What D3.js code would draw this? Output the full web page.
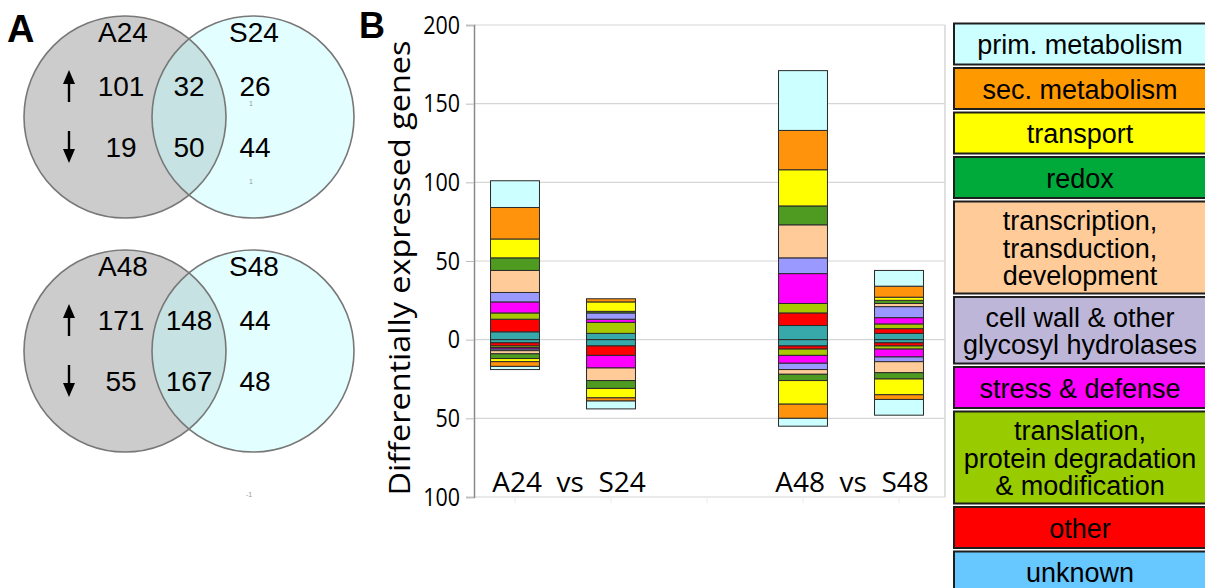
<!DOCTYPE html>
<html>
<head>
<meta charset="utf-8">
<script src="https://cdn.jsdelivr.net/npm/d3@7"></script>
<style>
body { margin: 0; background: #fff; }
svg { display: block; }
</style>
</head>
<body>
<div id="chart"></div>
<script>
// functional categories, top of each stack first
var categories = ["prim", "sec", "transport", "redox", "transcription", "cellwall", "stress", "translation", "other", "unknown"];
var legendLines = [
	["prim. metabolism"],
	["sec. metabolism"],
	["transport"],
	["redox"],
	["transcription,", "transduction,", "development"],
	["cell wall & other", "glycosyl hydrolases"],
	["stress & defense"],
	["translation,", "protein degradation", "& modification"],
	["other"],
	["unknown"]
];
var barColors = ["#ccffff", "#ff940c", "#ffff00", "#4f9a20", "#ffcc99", "#9999ff", "#ff00ff", "#a8c800", "#ff0000", "#38a9aa"];
var legendColors = ["#ccffff", "#ff9900", "#ffff00", "#00aa3a", "#ffcc99", "#bdb6d8", "#ff00ff", "#99cc00", "#ff0000", "#66c8ff"];

// number of up / down regulated genes per category (same order as categories)
var a24Up   = [17, 20, 12, 8, 14, 6, 7, 4, 8, 5];
var a24Down = [2, 3, 2, 3, 2, 1, 1, 1, 2, 2];
var s24Up   = [0, 2, 6, 1, 0, 4, 2, 7, 0, 4];
var s24Down = [5, 2, 6, 5, 8, 0, 8, 0, 6, 4];
var a48Up   = [38, 25, 23, 12, 21, 10, 19, 6, 8, 9];
var a48Down = [5, 9, 15, 4, 3, 4, 5, 4, 2, 4];
var s48Up   = [10, 7, 2, 2, 2, 7, 4, 3, 3, 4];
var s48Down = [10, 3, 10, 4, 7, 3, 5, 2, 2, 2];

var groups = ["A24", "S24", "gap", "A48", "S48"];
var yTicks = [-100, -50, 0, 50, 100, 150, 200];

// venn counts: [left only, overlap, right only]
var venn24Up   = [101, 32, 26];
var venn24Down = [19, 50, 44];
var venn48Up   = [171, 148, 44];
var venn48Down = [55, 167, 48];

var W = 1205, H = 588;
var svg = d3.select("#chart").append("svg")
	.attr("width", W)
	.attr("height", H);

var sans = "'Liberation Sans', Arial, sans-serif";
var open = "'Open Sans', 'Noto Sans', sans-serif";

/* ---------- panel A: venn diagrams ---------- */
svg.append("text")
	.attr("x", 7).attr("y", 42)
	.style("font-family", sans).style("font-weight", "bold").style("font-size", "38px")
	.text("A");

var vennSets = [
	{ names: ["A24", "S24"], up: venn24Up, down: venn24Down, cy: 117, id: "v24" },
	{ names: ["A48", "S48"], up: venn48Up, down: venn48Down, cy: 351, id: "v48" }
];
var cxL = 125, cxR = 253, rad = 101;
var colX = [121, 189, 255];

vennSets.forEach(function(v) {
	var g = svg.append("g");
	g.append("clipPath").attr("id", "clip" + v.id)
		.append("circle").attr("cx", cxL).attr("cy", v.cy).attr("r", rad);

	g.append("circle").attr("cx", cxL).attr("cy", v.cy).attr("r", rad)
		.style("fill", "#cccccc");
	g.append("circle").attr("cx", cxR).attr("cy", v.cy).attr("r", rad)
		.style("fill", "#e2fefe");
	g.append("circle").attr("cx", cxR).attr("cy", v.cy).attr("r", rad)
		.attr("clip-path", "url(#clip" + v.id + ")")
		.style("fill", "#c6e2e2");
	g.append("circle").attr("cx", cxL).attr("cy", v.cy).attr("r", rad)
		.style("fill", "none").style("stroke", "#787878").style("stroke-width", 1.6);
	g.append("circle").attr("cx", cxR).attr("cy", v.cy).attr("r", rad)
		.style("fill", "none").style("stroke", "#787878").style("stroke-width", 1.6);

	g.selectAll(".setname").data(v.names).enter().append("text")
		.attr("x", function(d, i) { return i == 0 ? 123 : 254; })
		.attr("y", v.cy - 75)
		.style("text-anchor", "middle")
		.style("font-family", sans).style("font-size", "28px")
		.text(function(d) { return d; });

	[v.up, v.down].forEach(function(row, r) {
		var base = v.cy + (r == 0 ? -21 : 40);
		g.selectAll(".num" + r).data(row).enter().append("text")
			.attr("x", function(d, i) { return colX[i]; })
			.attr("y", base)
			.style("text-anchor", "middle")
			.style("font-family", sans).style("font-size", "28px")
			.text(function(d) { return d; });

		// arrow
		var mid = base - 10, x = 69;
		var y1 = r == 0 ? mid + 16 : mid - 16;
		var y2 = r == 0 ? mid - 16 : mid + 16;
		var dir = r == 0 ? 1 : -1;
		g.append("line")
			.attr("x1", x).attr("x2", x)
			.attr("y1", y1).attr("y2", y2 + dir * 10)
			.style("stroke", "#000").style("stroke-width", 2.4);
		g.append("path")
			.attr("d", "M" + (x - 6) + "," + (y2 + dir * 14) + "L" + x + "," + y2 + "L" + (x + 6) + "," + (y2 + dir * 14) + "Z")
			.style("fill", "#000");
	});
});

// small stray marks from the original figure
[[251, 106, "1"], [251, 184, "1"], [249, 497, "-1"]].forEach(function(m) {
	svg.append("text").attr("x", m[0]).attr("y", m[1])
		.style("text-anchor", "middle").style("font-family", sans)
		.style("font-size", "7px").style("fill", "#999")
		.text(m[2]);
});

/* ---------- panel B: stacked bars ---------- */
svg.append("text")
	.attr("x", 359).attr("y", 38)
	.style("font-family", sans).style("font-weight", "bold").style("font-size", "36px")
	.text("B");

var plotL = 474, plotR = 945;
var y = d3.scaleLinear().domain([-100, 200]).range([497, 25]);
var x = d3.scaleBand().domain(groups).range([467, 947])
	.paddingInner(0.49).paddingOuter(0.245);

// grid
svg.append("g").selectAll("line").data(yTicks).enter().append("line")
	.attr("x1", plotL).attr("x2", plotR)
	.attr("y1", function(d) { return y(d); })
	.attr("y2", function(d) { return y(d); })
	.style("stroke", "#d6d6d6").style("stroke-width", 1.2);
svg.append("line")
	.attr("x1", plotR).attr("x2", plotR).attr("y1", y(200)).attr("y2", y(-100))
	.style("stroke", "#d6d6d6").style("stroke-width", 1.5);

// faint category ticks under the plot
svg.append("g").selectAll("line").data(groups).enter().append("line")
	.attr("x1", function(d) { return x(d) + x.bandwidth() / 2; })
	.attr("x2", function(d) { return x(d) + x.bandwidth() / 2; })
	.attr("y1", y(-100)).attr("y2", y(-100) + 6)
	.style("stroke", "#ececec");

// y axis
var yAxis = svg.append("g")
	.attr("transform", "translate(" + plotL + ",0)")
	.call(d3.axisLeft(y).tickValues(yTicks).tickSize(8).tickPadding(12)
		.tickFormat(function(d) { return Math.abs(d); }));
yAxis.select(".domain").style("stroke", "#8a8a8a").style("stroke-width", 1.5);
yAxis.selectAll(".tick line").style("stroke", "#bdbdbd");
yAxis.selectAll(".tick text")
	.style("font-family", open).style("font-size", "25px").style("fill", "#000")
	.attr("x", -14 / 0.86)
	.attr("transform", "scale(0.86,1)");

svg.append("text")
	.attr("transform", "translate(410,268) rotate(-90)")
	.attr("textLength", 455)
	.attr("lengthAdjust", "spacingAndGlyphs")
	.style("text-anchor", "middle")
	.style("font-family", open).style("font-size", "29px")
	.text("Differentially expressed genes");

// stacked segments
var series = { A24: [a24Up, a24Down], S24: [s24Up, s24Down], A48: [a48Up, a48Down], S48: [s48Up, s48Down] };
var segs = [];
Object.keys(series).forEach(function(k) {
	[0, 1].forEach(function(side) {
		var vals = series[k][side];
		var acc = 0;
		for (var i = categories.length - 1; i >= 0; i--) {
			if (vals[i] == 0) continue;
			var a = acc, b = acc + vals[i];
			acc = b;
			segs.push({ group: k, cat: i, y0: side == 0 ? a : -a, y1: side == 0 ? b : -b });
		}
	});
});

svg.append("g").selectAll("rect").data(segs).enter().append("rect")
	.attr("x", function(d) { return x(d.group); })
	.attr("width", x.bandwidth())
	.attr("y", function(d) { return y(Math.max(d.y0, d.y1)); })
	.attr("height", function(d) { return Math.abs(y(d.y0) - y(d.y1)); })
	.style("fill", function(d) { return barColors[d.cat]; })
	.style("stroke", "#2a2a2a").style("stroke-width", 1);

// x labels
var pairs = [["A24", "S24", 6], ["A48", "S48", 1]];
svg.append("g").selectAll("text").data(pairs).enter().append("text")
	.attr("x", function(d) { return (x(d[0]) + x(d[1]) + x.bandwidth()) / 2 + d[2]; })
	.attr("y", 492)
	.style("text-anchor", "middle")
	.style("white-space", "pre")
	.style("font-family", open).style("font-size", "28px")
	.text(function(d) { return d[0] + "  vs  " + d[1]; });

/* ---------- legend ---------- */
var legX = 954, legW = 254, legTop = 23.5, gap = 3.5;
var items = [];
var ly = legTop;
legendLines.forEach(function(lines, i) {
	var h = 41 + 25.5 * (lines.length - 1);
	items.push({ i: i, lines: lines, y: ly, h: h });
	ly += h + gap;
});

var leg = svg.append("g").selectAll("g").data(items).enter().append("g");
leg.append("rect")
	.attr("x", legX).attr("y", function(d) { return d.y; })
	.attr("width", legW).attr("height", function(d) { return d.h; })
	.style("fill", function(d) { return legendColors[d.i]; })
	.style("stroke", "#1e1e1e").style("stroke-width", 2);
leg.each(function(d) {
	var n = d.lines.length;
	var mid = d.y + d.h / 2;
	d3.select(this).selectAll("text").data(d.lines).enter().append("text")
		.attr("x", legX + legW / 2 - 1)
		.attr("y", function(t, j) { return mid + 10 + (j - (n - 1) / 2) * 27.5; })
		.style("text-anchor", "middle")
		.style("font-family", sans).style("font-size", "27px")
		.text(function(t) { return t; });
});
</script>
</body>
</html>
